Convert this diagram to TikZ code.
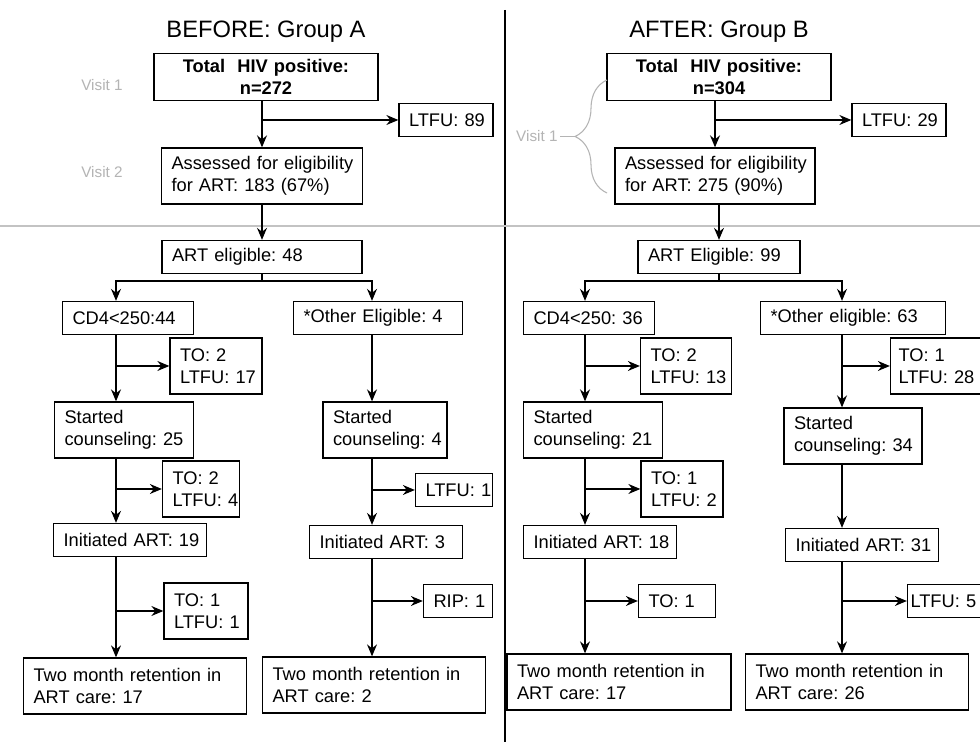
\documentclass[tikz,border=0pt]{standalone}
\usepackage{fontspec}
\setmainfont{Liberation Sans}
\usetikzlibrary{positioning, calc, arrows.meta, decorations.pathreplacing}

\definecolor{visitgray}{RGB}{180,180,180}
\definecolor{rulegray}{RGB}{195,195,195}
\newcommand{\bodyfont}{\fontsize{10.4}{12.3}\selectfont\hyphenpenalty=10000\exhyphenpenalty=10000}

\begin{document}
\begin{tikzpicture}[
  x=0.02cm, y=-0.02cm,
  >={Stealth[length=2.4mm, width=2mm, inset=0.8mm]}, line width=0.75pt,
  box/.style     = {draw, rectangle, inner xsep=0.2cm, inner ysep=0pt,
                    align=left, font=\bodyfont},
  oneline/.style = {box, minimum height=0.66cm},
  twoline/.style = {box, minimum height=1.12cm},
  topbox/.style  = {box, align=center, minimum height=0.94cm,
                    font=\bodyfont\bfseries},
  heading/.style = {font=\fontsize{13.5}{16}\selectfont},
  visit/.style   = {text=visitgray, inner sep=1pt,
                    font=\fontsize{8.7}{10}\selectfont},
]
  \fill[white] (0,0) rectangle (980,742);
  \useasboundingbox (0,0) rectangle (980,742);

  % ── frame: divider and visit rule ─────────────────────────────────────
  \draw[line width=0.6pt] (505,10) -- (505,742);
  \draw[rulegray, line width=0.6pt] (0,226) -- (980,226);

  % ── BEFORE: group A ───────────────────────────────────────────────────
  \node[heading] (headA) at (266,32) {BEFORE: Group A};
  \node[visit] (visA1) at (102,85)  {Visit 1};
  \node[visit] (visA2) at (102,172) {Visit 2};

  \node[topbox, text width=4.08cm]  (totA)  at (266,77)  {Total\ \ HIV positive:\\n=272};
  \node[oneline, text width=1.48cm] (ltfuA) at (446,120) {LTFU:~89};
  \node[twoline, text width=3.62cm] (assA)  at (262,176) {Assessed~for~eligibility\\for~ART:~183~(67\%)};
  \node[oneline, text width=3.60cm] (eligA) at (262,257) {ART~eligible:~48};

  \coordinate (colA1) at (116,0);
  \coordinate (colA2) at (372,0);

  \node[oneline, text width=2.22cm] (cdA)    at (128,318) {CD4<250:44};
  \node[twoline, text width=1.44cm] (lossA1) at (216,366) {TO:~2\\LTFU:~17};
  \node[twoline, text width=2.38cm] (cnsA1)  at (124,430) {Started\\counseling:~25};
  \node[twoline, text width=1.14cm] (lossA2) at (201,489) {TO:~2\\LTFU:~4};
  \node[oneline, text width=2.66cm] (artA1)  at (130,540) {Initiated~ART:~19};
  \node[twoline, text width=1.28cm] (lossA4) at (206,611) {TO:~1\\LTFU:~1};
  \node[twoline, text width=4.06cm] (retA1)  at (135,686) {Two~month~retention~in\\ART~care:~17};

  \node[oneline, text width=2.98cm] (othA)   at (378,318) {*Other~Eligible:~4};
  \node[twoline, text width=2.08cm] (cnsA2)  at (385,430) {Started\\counseling:~4};
  \node[oneline, text width=1.14cm] (lossA3) at (454,490) {LTFU:~1};
  \node[oneline, text width=2.66cm] (artA2)  at (386,542) {Initiated~ART:~3};
  \node[oneline, text width=0.98cm] (lossA5) at (458,601) {RIP:~1};
  \node[twoline, text width=4.06cm] (retA2)  at (374,685) {Two~month~retention~in\\ART~care:~2};

  \draw[->] (totA.south -| assA) -- (assA);
  \draw[->] (assA |- ltfuA) -- (ltfuA);
  \draw[->] (assA) -- (eligA);
  \draw (eligA.south) -- ++(0,7) coordinate (splitA);
  \draw[->] (splitA) -| (cdA.north -| colA1);
  \draw[->] (splitA) -| (othA.north -| colA2);

  \draw[->] (cdA.south -| colA1) -- (cnsA1.north -| colA1);
  \draw[->] (colA1 |- lossA1) -- (lossA1);
  \draw[->] (cnsA1.south -| colA1) -- (artA1.north -| colA1);
  \draw[->] (colA1 |- lossA2) -- (lossA2);
  \draw[->] (artA1.south -| colA1) -- (retA1.north -| colA1);
  \draw[->] (colA1 |- lossA4) -- (lossA4);

  \draw[->] (othA.south -| colA2) -- (cnsA2.north -| colA2);
  \draw[->] (cnsA2.south -| colA2) -- (artA2.north -| colA2);
  \draw[->] (colA2 |- lossA3) -- (lossA3);
  \draw[->] (artA2.south -| colA2) -- (retA2.north -| colA2);
  \draw[->] (colA2 |- lossA5) -- (lossA5);

  % ── AFTER: group B ────────────────────────────────────────────────────
  \node[heading] (headB) at (719,32) {AFTER: Group B};

  \node[topbox, text width=4.08cm]  (totB)  at (719,77)  {Total\ \ HIV positive:\\n=304};
  \node[oneline, text width=1.48cm] (ltfuB) at (899,120) {LTFU:~29};
  \node[twoline, text width=3.60cm] (assB)  at (715,176) {Assessed~for~eligibility\\for~ART:~275~(90\%)};
  \node[oneline, text width=2.84cm] (eligB) at (719,257) {ART~Eligible:~99};

  % visit 1 covers both boxes here
  \draw[visitgray, line width=0.6pt, decorate,
        decoration={brace, amplitude=0.64cm}] (607,193) -- (607,80);
  \coordinate (tipB) at (575,136.5);
  \node[visit, anchor=east] (visB) at (560,136.5) {Visit 1};
  \draw[visitgray, line width=0.6pt] (visB) -- (tipB);

  \coordinate (colB1) at (585,0);
  \coordinate (colB2) at (842,0);

  \node[oneline, text width=2.22cm] (cdB)    at (589,318) {CD4<250:~36};
  \node[twoline, text width=1.42cm] (lossB1) at (686,366) {TO:~2\\LTFU:~13};
  \node[twoline, text width=2.38cm] (cnsB1)  at (593,430) {Started\\counseling:~21};
  \node[twoline, text width=1.24cm] (lossB2) at (682,489) {TO:~1\\LTFU:~2};
  \node[oneline, text width=2.66cm] (artB1)  at (600,542) {Initiated~ART:~18};
  \node[oneline, text width=1.14cm] (lossB3) at (677,601) {TO:~1};
  \node[twoline, text width=4.08cm] (retB1)  at (619,682) {Two~month~retention~in\\ART~care:~17};

  \node[oneline, text width=3.30cm] (othB)   at (853,318) {*Other~eligible:~63};
  \node[twoline, text width=1.50cm, inner xsep=0.16cm] (lossB4) at (936,366) {TO:~1\\LTFU:~28};
  \node[oneline, text width=1.42cm, inner xsep=0.06cm] (lossB5) at (946,601) {LTFU:~5};
  \node[twoline, text width=2.36cm] (cnsB2)  at (853,436) {Started\\counseling:~34};
  \node[oneline, text width=2.66cm] (artB2)  at (862,545) {Initiated~ART:~31};
  \node[twoline, text width=4.06cm] (retB2)  at (857,682) {Two~month~retention~in\\ART~care:~26};

  \draw[->] (totB.south -| assB) -- (assB);
  \draw[->] (assB |- ltfuB) -- (ltfuB);
  \draw[->] (assB.south -| eligB) -- (eligB);
  \draw (eligB.south) -- ++(0,7) coordinate (splitB);
  \draw[->] (splitB) -| (cdB.north -| colB1);
  \draw[->] (splitB) -| (othB.north -| colB2);

  \draw[->] (cdB.south -| colB1) -- (cnsB1.north -| colB1);
  \draw[->] (colB1 |- lossB1) -- (lossB1);
  \draw[->] (cnsB1.south -| colB1) -- (artB1.north -| colB1);
  \draw[->] (colB1 |- lossB2) -- (lossB2);
  \draw[->] (artB1.south -| colB1) -- (retB1.north -| colB1);
  \draw[->] (colB1 |- lossB3) -- (lossB3);

  \draw[->] (othB.south -| colB2) -- (cnsB2.north -| colB2);
  \draw[->] (colB2 |- lossB4) -- (lossB4);
  \draw[->] (cnsB2.south -| colB2) -- (artB2.north -| colB2);
  \draw[->] (artB2.south -| colB2) -- (retB2.north -| colB2);
  \draw[->] (colB2 |- lossB5) -- (lossB5);

\end{tikzpicture}
\end{document}
